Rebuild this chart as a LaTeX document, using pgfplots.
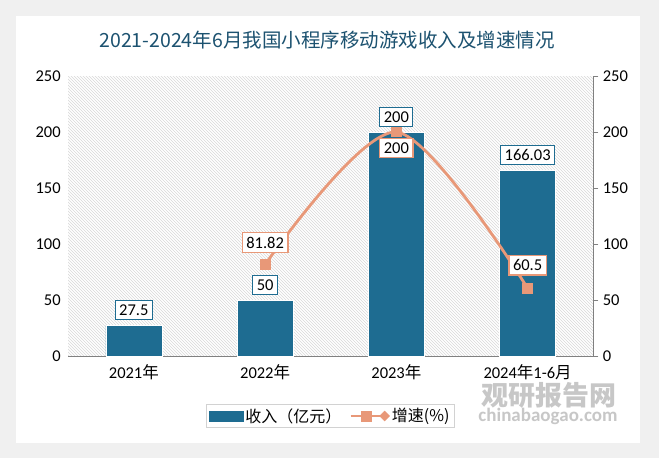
\documentclass[border=0pt]{standalone}
\usepackage{pgfplots}
\pgfplotsset{compat=1.18}
\usetikzlibrary{patterns}
\usepackage{fontspec}
\setmainfont{Carlito}
\newfontfamily\cjk{Noto Sans CJK SC}
\definecolor{barc}{RGB}{30,108,145}
\definecolor{linec}{RGB}{232,152,120}
\definecolor{titlec}{RGB}{28,82,112}
\pgfplotsset{/pgf/number format/assume math mode=true}

\pgfplotstableread{
x y dy
1 81.82 22
2 200 -16
3 60.5 23
}\growth

\begin{document}
\begin{tikzpicture}[x=1pt,y=1pt]
\path[use as bounding box] (0,0) rectangle (659,458);
\fill[gray!12] (0,0) rectangle (659,458);
\fill[white] (16,15) rectangle (640,442);
\node[font=\cjk\fontsize{19.5}{22}\selectfont, text=titlec] at (327,418)
  {2021-2024年6月我国小程序移动游戏收入及增速情况};

\begin{axis}[name=main, at={(52,91)}, anchor=south west, scale only axis,
  width=525pt, height=280pt,
  xmin=-0.5, xmax=3.5, ymin=0, ymax=250,
  ytick={0,50,...,250}, xtick={0,1,2,3},
  xticklabels={2021{\cjk 年},2022{\cjk 年},2023{\cjk 年},2024{\cjk 年}1-6{\cjk 月}},
  axis x line*=bottom, axis y line*=left,
  y axis line style={draw=none}, x axis line style={gray, line width=1pt},
  major tick style={draw=none},
  tick label style={font=\fontsize{16.5}{19}\selectfont},
  yticklabel style={xshift=-4pt},
  xticklabel style={yshift=-5pt},
  axis background/.style={pattern=north west lines, pattern color=gray!30},
  legend style={at={(0.499,-0.214)}, anchor=center, legend columns=2,
    draw=gray!35, font=\cjk\fontsize{16}{18}\selectfont,
    /tikz/every even column/.style={column sep=6pt}},
  legend cell align=left,
]
\addplot[ybar, bar width=56pt, fill=barc, draw=white,
  nodes near coords,
  every node near coord/.append style={draw=barc, line width=1pt, fill=white, inner sep=4pt,
    font=\fontsize{16.5}{19}\selectfont, yshift=5pt},
  legend image code/.code={\fill[barc] (0pt,-5pt) rectangle (34pt,5pt);}]
  coordinates {(0,27.5) (1,50) (2,200) (3,166.03)};
\addlegendentry{收入（亿元）}
\addlegendimage{legend image code/.code={
  \draw[linec, line width=2.5pt] (0pt,0pt) -- (34pt,0pt);
  \fill[linec] (16pt,0pt) +(-5pt,-5pt) rectangle +(5pt,5pt);
  \fill[linec] (34pt,0pt) +(-5pt,0pt) -- +(0pt,5pt) -- +(5pt,0pt) -- +(0pt,-5pt) -- cycle;}}
\addlegendentry{增速(\%)}
\end{axis}

\begin{axis}[at={(main.south west)}, anchor=south west, scale only axis,
  width=525pt, height=280pt,
  xmin=-0.5, xmax=3.5, ymin=0, ymax=250,
  ytick={0,50,...,250},
  axis x line=none, axis y line*=right,
  y axis line style={gray, line width=1pt},
  ytick style={gray, line width=1pt}, tick align=outside, major tick length=5pt,
  tick label style={font=\fontsize{16.5}{19}\selectfont},
  yticklabel style={xshift=1pt},
]
\addplot[linec, line width=2.8pt, smooth, mark=square*, mark size=4pt,
  mark options={fill=linec},
  visualization depends on={\thisrow{dy} \as \dy},
  nodes near coords,
  every node near coord/.append style={draw=linec, line width=1.2pt, fill=white, inner sep=4pt,
    text=black, anchor=center, yshift=\dy pt,
    font=\fontsize{16.5}{19}\selectfont}]
  table[x=x, y=y] {\growth};
\end{axis}

\node[font=\cjk\bfseries\fontsize{27}{29}\selectfont, text=gray!55, opacity=0.8] at (549,63) {观研报告网};
\node[font=\fontsize{19}{21}\selectfont\bfseries, text=gray!55, opacity=0.8] at (548,42) {chinabaogao.com};
\end{tikzpicture}
\end{document}
